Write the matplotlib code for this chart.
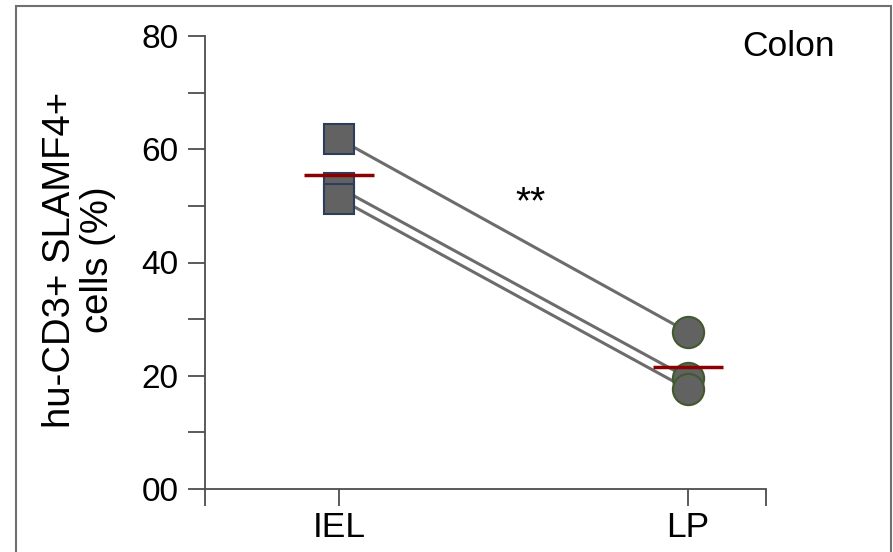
import matplotlib
matplotlib.use("Agg")
import matplotlib.pyplot as plt
from matplotlib.patches import Rectangle
import numpy as np

plt.rcParams['font.family'] = ['Liberation Sans', 'DejaVu Sans']

# values (three paired samples)
groups = ['IEL', 'LP']
iel_values = [61.8, 53.2, 51.3]
lp_values = [27.7, 19.6, 17.6]
y_ticks = [0, 20, 40, 60, 80]
y_tick_labels = ['00', '20', '40', '60', '80']
y_minor = [10, 30, 50, 70]

fig = plt.figure(figsize=(8.93, 5.52), dpi=100)
ax = fig.add_axes([205 / 893, 1 - 489 / 552, 561 / 893, 453 / 552])

xpos = np.array([0.0, 1.0])
for a, b in zip(iel_values, lp_values):
    ax.plot(xpos, [a, b], color='#6c6c6c', lw=2.2, zorder=1)

ax.plot(np.zeros(len(iel_values)), iel_values, 's', ms=21.5, mfc='#626262',
        mec='#2e3d5c', mew=1.5, ls='none', zorder=3)
ax.plot(np.ones(len(lp_values)), lp_values, 'o', ms=22.5, mfc='#626262',
        mec='#415a2c', mew=1.5, ls='none', zorder=3)

# group means
for x, vals in zip(xpos, [iel_values, lp_values]):
    m = np.mean(vals)
    ax.plot([x - 0.1, x + 0.1], [m, m], color='#8b0000', lw=2.5, zorder=4,
            solid_capstyle='butt')

ax.text(0.55, 50.5, '**', fontsize=28, ha='center', va='center')
ax.text(1.287, 78.2, 'Colon', fontsize=25.5, ha='center', va='center')

ax.set_xlim(-0.384, 1.223)
ax.set_ylim(0, 80)

ax.set_xticks(xpos)
ax.set_xticklabels(groups, fontsize=25.5)
ax.set_xticks([-0.384, 1.223], minor=True)
ax.set_yticks(y_ticks)
ax.set_yticklabels(y_tick_labels, fontsize=24)
ax.set_yticks(y_minor, minor=True)

for s in ['top', 'right']:
    ax.spines[s].set_visible(False)
for s in ['left', 'bottom']:
    ax.spines[s].set_color('#4d4d4d')
    ax.spines[s].set_linewidth(1.3)

ax.tick_params(axis='both', which='both', direction='out', length=12,
               width=1.3, color='#4d4d4d')
ax.tick_params(axis='y', which='major', pad=7)
ax.tick_params(axis='x', which='major', pad=4)

fig.text(79 / 893, 1 - 260 / 552, 'hu-CD3+ SLAMF4+\ncells (%)', rotation=90,
         ha='center', va='center', fontsize=27.5, multialignment='center',
         linespacing=1.1)

# outer frame of the panel
frame = Rectangle((16 / 893, -0.05), 875 / 893, 1.05 - 6 / 552,
                  transform=fig.transFigure, fill=False, edgecolor='#707070',
                  lw=1.5, clip_on=False)
fig.patches.append(frame)

fig.savefig('out.png', dpi=100)
